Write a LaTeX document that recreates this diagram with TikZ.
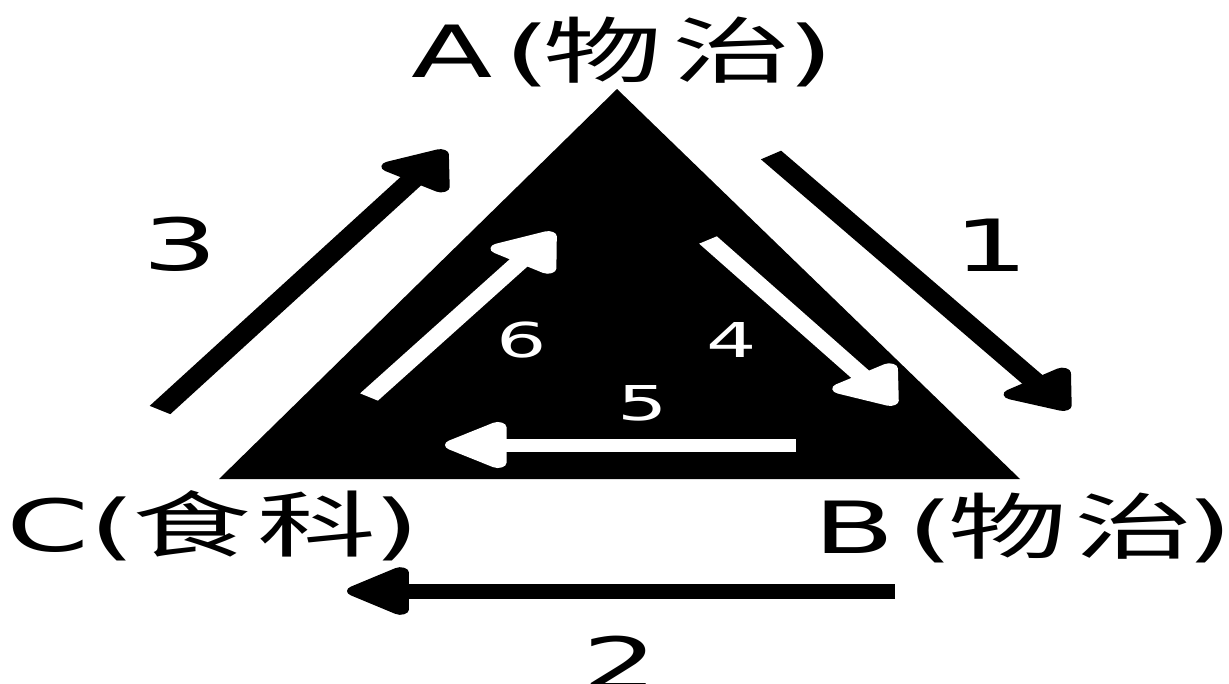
\documentclass[tikz,border=0pt]{standalone}
\usepackage{fontspec}
\setmainfont{DejaVu Sans}
\newfontfamily\cjk{Noto Sans CJK SC}
\usetikzlibrary{arrows.meta}
\begin{document}
\begin{tikzpicture}[x=1pt,y=-1pt]
\fill[white] (0,0) rectangle (1229,683);
\useasboundingbox (0,0) rectangle (1229,683);
\begin{scope}[x=0.60606pt, transform canvas={xscale=1.65},
  blk/.style={line width=15pt, draw=black, -{Triangle[length=42pt,width=54pt,round]}},
  wht/.style={line width=13pt, draw=white, -{Triangle[length=42pt,width=52pt,round]}},
  big/.style={font=\fontsize{72}{80}\selectfont, inner sep=0pt, text=black},
  small/.style={font=\fontsize{48}{54}\selectfont, inner sep=0pt, text=white}]
  % triangle
  \coordinate (TA) at (617,89);
  \coordinate (TL) at (219,479);
  \coordinate (TR) at (1020,479);
  \fill[black] (TA) -- (TL) -- (TR) -- cycle;
  % arrow end points
  \coordinate (a1s) at (771,155);  \coordinate (a1e) at (1068,410);
  \coordinate (a2s) at (895,591);  \coordinate (a2e) at (347,591);
  \coordinate (a3s) at (160,410);  \coordinate (a3e) at (445,150);
  \coordinate (a4s) at (708,240);  \coordinate (a4e) at (895,405);
  \coordinate (a5s) at (796,445);  \coordinate (a5e) at (445,445);
  \coordinate (a6s) at (369,397);  \coordinate (a6e) at (553,232);
  \draw[blk] (a1s) -- (a1e);
  \draw[blk] (a2s) -- (a2e);
  \draw[blk] (a3s) -- (a3e);
  \draw[wht] (a4s) -- (a4e);
  \draw[wht] (a5s) -- (a5e);
  \draw[wht] (a6s) -- (a6e);
  % labels
  \node[big, anchor=base west] (A) at (411,77) {A\kern7pt(\kern-4pt{\cjk 物}\kern6pt{\cjk 治}\kern-2.5pt)};
  \node[big, anchor=base west] (C) at (6,551) {C\kern0pt(\kern-1.6pt{\cjk 食}\kern3.2pt{\cjk 科}\kern-1.5pt)};
  \node[big, anchor=base west] (B) at (813,553) {B\kern7.5pt(\kern-3pt{\cjk 物}\kern4.4pt{\cjk 治}\kern-4.5pt)};
  % numbers
  \node[big] (n1) at (991,245) {1};
  \node[big] (n2) at (620,663) {2};
  \node[big] (n3) at (180,244) {3};
  \node[small] (n4) at (732,340) {4};
  \node[small] (n5) at (643,403) {5};
  \node[small] (n6) at (522,340) {6};
\end{scope}
\end{tikzpicture}
\end{document}
